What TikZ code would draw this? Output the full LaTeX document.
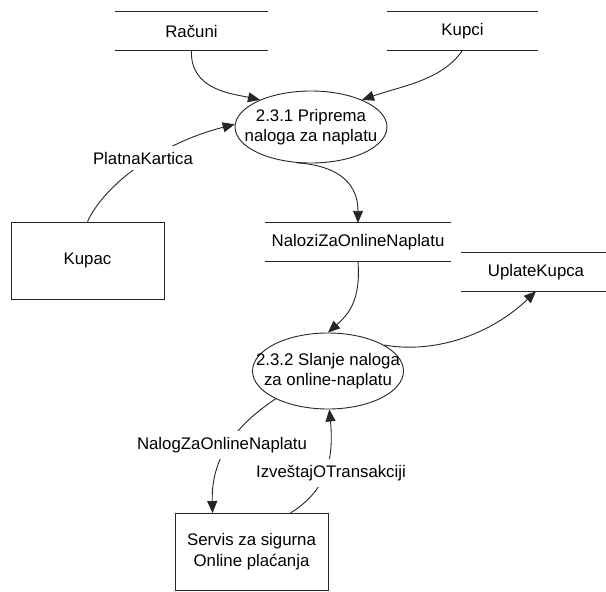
\documentclass[tikz,border=0pt]{standalone}
\usepackage{fontspec}
\setmainfont{Liberation Sans}
\usetikzlibrary{shapes.geometric,arrows.meta}
\begin{document}
\begin{tikzpicture}[x=1pt,y=-1pt,
  every node/.style={font=\fontsize{16.8}{20}\selectfont, inner sep=0pt},
  wire/.style={draw=black!85, line width=0.9pt},
  flow/.style={wire, -{Triangle[length=12pt,width=10pt]}},
  proc/.style={ellipse, wire, minimum width=152pt, minimum height=72pt},
  entity/.style={rectangle, wire, align=center, minimum width=153pt, minimum height=77pt},
  store/.style={rectangle, minimum width=#1, minimum height=38pt},
  txt/.style={align=center},
  flowlabel/.style={fill=white, inner xsep=2pt, inner ysep=6pt}]
\useasboundingbox (0,0) rectangle (606,592);
\fill[white] (0,0) rectangle (606,592);

% external entities
\node[entity] (kupac) at (87.5,260.5) {Kupac};
\node[entity] (servis) at (251.5,552) {Servis za sigurna\\[1pt]Online plaćanja};

% processes
\node[proc] (p1) at (311,127) {};
\node[txt] (p1t) at (p1) {2.3.1 Priprema\\naloga za naplatu};
\node[proc, minimum width=151pt, minimum height=76pt] (p2) at (328,371) {};
\node[txt] (p2t) at (p2) {2.3.2 Slanje naloga\\za online-naplatu};

% data stores (open-ended, two horizontal rules)
\node[store=153pt] (racuni) at (191.5,31) {Računi};
\node[store=151pt] (kupci) at (462.5,31) {Kupci};
\node[store=186pt] (nalozi) at (358,242) {NaloziZaOnlineNaplatu};
\node[store=150pt] (uplate) at (536,272) {UplateKupca};
\foreach \s in {racuni,kupci,nalozi,uplate}
  \draw[wire] (\s.north west) -- (\s.north east) (\s.south west) -- (\s.south east);

% data flows
\draw[flow] (racuni.south) .. controls +(-2,40) and +(-27,-6) .. (p1.152);
\draw[flow] (kupci.south) .. controls +(-20,30) and +(40,-14) .. (p1.28);
\draw[flow] (kupac.north) .. controls +(17,-37) and +(-75,19) .. (p1.178);
\draw[flow] (p1.248) .. controls +(45,3) and +(0,-37) .. (nalozi.north);
\draw[flow] (nalozi.south) .. controls +(3,40) and +(20,-18) .. (p2.north);
\draw[flow] (p2.25) .. controls +(50,9) and +(-46,44) .. (uplate.south);
\draw[flow] (p2.208) .. controls +(-36,24) and +(-1.5,-59) .. (servis.135);
\draw[flow] (servis.45) .. controls +(28,-18) and +(6,62) .. (p2.272);

% flow labels
\node[flowlabel] (lbl1) at (143,158) {PlatnaKartica};
\node[flowlabel] (lbl2) at (222,445) {NalogZaOnlineNaplatu};
\node[flowlabel] (lbl3) at (331,473) {IzveštajOTransakciji};
\end{tikzpicture}
\end{document}
